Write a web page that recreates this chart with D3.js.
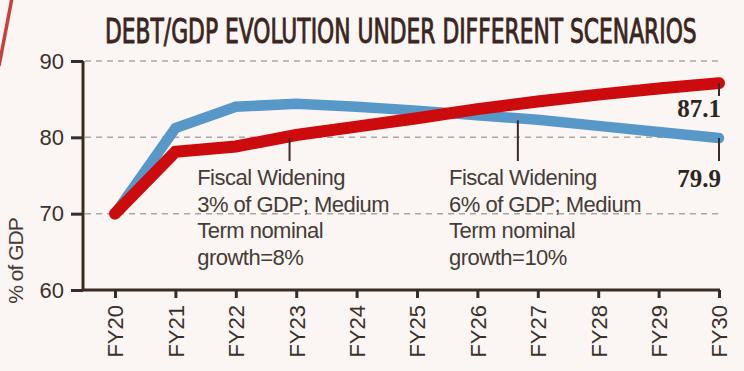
<!DOCTYPE html>
<html>
<head>
<meta charset="utf-8">
<script src="https://cdn.jsdelivr.net/npm/d3@7"></script>
<style>
  body { margin: 0; background: #fbf6f3; }
  svg { display: block; }
  text { font-family: "Liberation Sans", Arial, sans-serif; fill: #3b302d; }
</style>
</head>
<body>
<svg width="744" height="371"></svg>
<script>
// data
const years = ["FY20", "FY21", "FY22", "FY23", "FY24", "FY25", "FY26", "FY27", "FY28", "FY29", "FY30"];
const widening3 = [70, 78.1, 78.8, 80.3, 81.4, 82.5, 83.7, 84.7, 85.6, 86.4, 87.1];   // red
const widening6 = [70, 81.2, 84.0, 84.4, 84.0, 83.5, 82.9, 82.3, 81.5, 80.7, 79.9];   // blue
const yTicks = [60, 70, 80, 90];
const gridValues = [70, 80, 90];
const note1 = ["Fiscal Widening", "3% of GDP; Medium", "Term nominal", "growth=8%"];
const note2 = ["Fiscal Widening", "6% of GDP; Medium", "Term nominal", "growth=10%"];

const svg = d3.select("svg"),
      plotLeft = 83, plotRight = 720, plotTop = 61, plotBottom = 290;

const x = d3.scalePoint().domain(years).range([115, 719]);
const xi = d3.scaleLinear().domain([0, years.length - 1]).range([115, 719]);
const y = d3.scaleLinear().domain([60, 90]).range([plotBottom, plotTop]);

const RED = "#cc0b0c", BLUE = "#5898c8", INK = "#3a2b27", TXT = "#463b37";

// decorative corner stroke
svg.append("line")
  .attr("x1", -1).attr("y1", 66).attr("x2", 12).attr("y2", -2)
  .attr("stroke", "#c7403c").attr("stroke-width", 3.5);

// title, squeezed to the reference width
const title = svg.append("g").attr("transform", "translate(105,43)");
const titleText = title.append("text")
  .style("font-family", "'Liberation Sans Narrow', 'DejaVu Sans Condensed', sans-serif")
  .style("font-size", "34px")
  .style("fill", "#3a2520").style("stroke", "#3a2520").style("stroke-width", 0.9)
  .text("DEBT/GDP EVOLUTION UNDER DIFFERENT SCENARIOS");
const tw = titleText.node().getComputedTextLength();
title.attr("transform", `translate(105,43) scale(${592 / tw},1)`);

// grid
svg.append("g").selectAll("line")
  .data(gridValues)
  .join("line")
    .attr("x1", plotLeft + 2).attr("x2", 719)
    .attr("y1", d => y(d)).attr("y2", d => y(d))
    .attr("stroke", "#aca6a3").attr("stroke-width", 1.5)
    .attr("stroke-dasharray", "6,5");

// y axis
const yAxis = svg.append("g")
  .attr("transform", `translate(${plotLeft},0)`)
  .call(d3.axisLeft(y).tickValues(yTicks).tickSize(12).tickSizeOuter(0).tickPadding(7));
yAxis.select(".domain").remove();
yAxis.selectAll("line").attr("stroke", INK).attr("stroke-width", 3);
yAxis.selectAll("text")
  .style("font-size", "22px").style("font-family", "'Liberation Sans', sans-serif")
  .attr("fill", TXT);

// x axis
const xAxis = svg.append("g")
  .attr("transform", `translate(0,${plotBottom})`)
  .call(d3.axisBottom(x).tickSize(8).tickSizeOuter(0));
xAxis.select(".domain").remove();
xAxis.selectAll("line").attr("stroke", INK).attr("stroke-width", 3);
xAxis.selectAll("text")
  .attr("transform", "rotate(-90)")
  .attr("x", -15).attr("y", 0).attr("dy", "0.36em")
  .style("text-anchor", "end")
  .style("font-size", "22px").style("font-family", "'Liberation Sans', sans-serif")
  .attr("fill", TXT);

// axis lines
svg.append("path")
  .attr("d", `M${plotLeft},${plotTop}V${plotBottom}H${plotRight}`)
  .attr("fill", "none").attr("stroke", INK).attr("stroke-width", 3);

// y axis title
svg.append("text")
  .attr("transform", `translate(23,${(222 + 300) / 2}) rotate(-90)`)
  .style("text-anchor", "middle").style("font-size", "21px")
  .style("letter-spacing", "-1px").style("fill", TXT)
  .text("% of GDP");

// lines
const line = d3.line().x((d, i) => x(years[i])).y(d => y(d));

svg.append("path")
  .datum(widening6)
  .attr("d", line)
  .attr("fill", "none").attr("stroke", BLUE).attr("stroke-width", 10.5)
  .attr("stroke-linecap", "round").attr("stroke-linejoin", "miter");

svg.append("path")
  .datum(widening3)
  .attr("d", line)
  .attr("fill", "none").attr("stroke", RED).attr("stroke-width", 12)
  .attr("stroke-linecap", "round").attr("stroke-linejoin", "miter");

// value interpolation along a series at fractional year index
const at = (series, t) => {
  const i = Math.min(Math.floor(t), series.length - 2);
  return series[i] + (series[i + 1] - series[i]) * (t - i);
};

// annotations
const notes = [
  {lines: note1, series: widening3, leader: 2.89, textAt: 1.36},
  {lines: note2, series: widening6, leader: 6.67, textAt: 5.53}
];
const noteTop = 161, firstBase = 185, lineGap = 26.7;

notes.forEach(n => {
  svg.append("line")
    .attr("x1", xi(n.leader)).attr("x2", xi(n.leader))
    .attr("y1", y(at(n.series, n.leader)) + 2).attr("y2", noteTop)
    .attr("stroke", INK).attr("stroke-width", 2);
  svg.append("g").selectAll("text")
    .data(n.lines)
    .join("text")
      .attr("x", xi(n.textAt))
      .attr("y", (d, i) => firstBase + i * lineGap)
      .style("font-size", "22px").style("letter-spacing", "-0.5px")
      .style("fill", TXT)
      .text(d => d);
});

// end labels
const last = years.length - 1;
const ends = [
  {series: widening3, to: 96, base: 117},
  {series: widening6, to: 161, base: 187}
];
ends.forEach(e => {
  svg.append("line")
    .attr("x1", x(years[last])).attr("x2", x(years[last]))
    .attr("y1", y(e.series[last])).attr("y2", e.to)
    .attr("stroke", INK).attr("stroke-width", 2);
  svg.append("text")
    .attr("x", x(years[last]) + 2).attr("y", e.base)
    .style("text-anchor", "end")
    .style("font-family", "'Liberation Serif', 'DejaVu Serif', serif")
    .style("font-weight", "bold").style("font-size", "25px")
    .style("fill", "#2e2522")
    .text(d3.format(".1f")(e.series[last]));
});
</script>
</body>
</html>
